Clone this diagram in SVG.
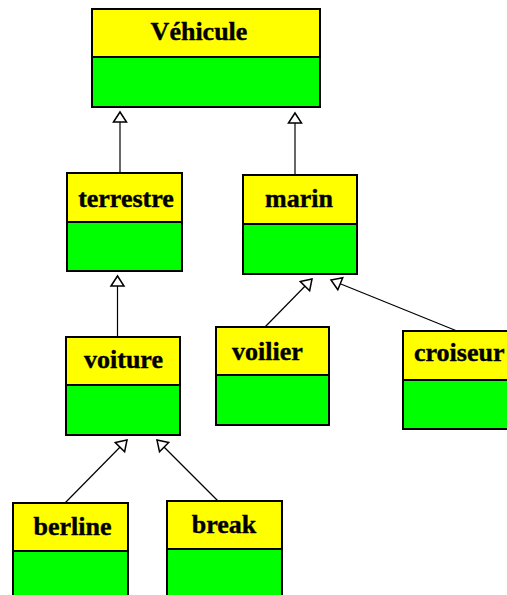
<svg xmlns="http://www.w3.org/2000/svg" width="507" height="595" viewBox="0 0 507 595">
<style>
.hd{fill:#ffff00;stroke:#000;stroke-width:2}
.bd{fill:#00ff00;stroke:#000;stroke-width:2}
.t{font-family:"Liberation Serif","Times New Roman",serif;font-weight:bold;font-size:26px;fill:#000;stroke:#000;stroke-width:0.4;text-anchor:middle}
.c{stroke:#000;stroke-width:1.2;fill:none;marker-end:url(#tri)}
</style>
<defs>
<marker id="tri" markerUnits="userSpaceOnUse" viewBox="-1 -8 13 16" refX="10" refY="0" markerWidth="13" markerHeight="16" orient="auto" overflow="visible">
<path d="M0,-6.5 L10,0 L0,6.5 Z" fill="#fff" stroke="#000" stroke-width="1.5"/>
</marker>
</defs>
<rect width="507" height="595" fill="#fff"/>
<g id="connectors">
<line class="c" x1="120" y1="173" x2="120" y2="112"/>
<line class="c" x1="295" y1="175" x2="295" y2="113"/>
<line class="c" x1="117.5" y1="337" x2="117.5" y2="276"/>
<line class="c" x1="265" y1="327" x2="312" y2="279"/>
<line class="c" x1="457" y1="331" x2="331" y2="280"/>
<line class="c" x1="65" y1="503" x2="127" y2="440"/>
<line class="c" x1="218" y1="501" x2="157" y2="440"/>
</g>
<g id="vehicule">
<rect class="hd" x="92" y="9" width="228" height="48"/>
<rect class="bd" x="92" y="57" width="228" height="50"/>
<text class="t" x="199" y="40">Véhicule</text>
</g>
<g id="terrestre">
<rect class="hd" x="67" y="173" width="115" height="49"/>
<rect class="bd" x="67" y="222" width="115" height="49"/>
<text class="t" x="126" y="207">terrestre</text>
</g>
<g id="marin">
<rect class="hd" x="243" y="175" width="114" height="49"/>
<rect class="bd" x="243" y="224" width="114" height="50"/>
<text class="t" x="299" y="207">marin</text>
</g>
<g id="voiture">
<rect class="hd" x="66" y="337" width="114" height="48"/>
<rect class="bd" x="66" y="385" width="114" height="50"/>
<text class="t" x="123.5" y="368">voiture</text>
</g>
<g id="voilier">
<rect class="hd" x="216" y="327" width="113" height="48"/>
<rect class="bd" x="216" y="375" width="113" height="50"/>
<text class="t" x="267.5" y="360">voilier</text>
</g>
<g id="croiseur">
<rect class="hd" x="403" y="331" width="114" height="49"/>
<rect class="bd" x="403" y="380" width="114" height="49"/>
<text class="t" x="414" y="361" style="text-anchor:start">croiseur</text>
</g>
<g id="berline">
<rect class="hd" x="13" y="503" width="115" height="48"/>
<rect class="bd" x="13" y="551" width="115" height="50"/>
<text class="t" x="72.5" y="535">berline</text>
</g>
<g id="break">
<rect class="hd" x="167" y="501" width="115" height="48"/>
<rect class="bd" x="167" y="549" width="115" height="50"/>
<text class="t" x="224" y="533">break</text>
</g>
</svg>
